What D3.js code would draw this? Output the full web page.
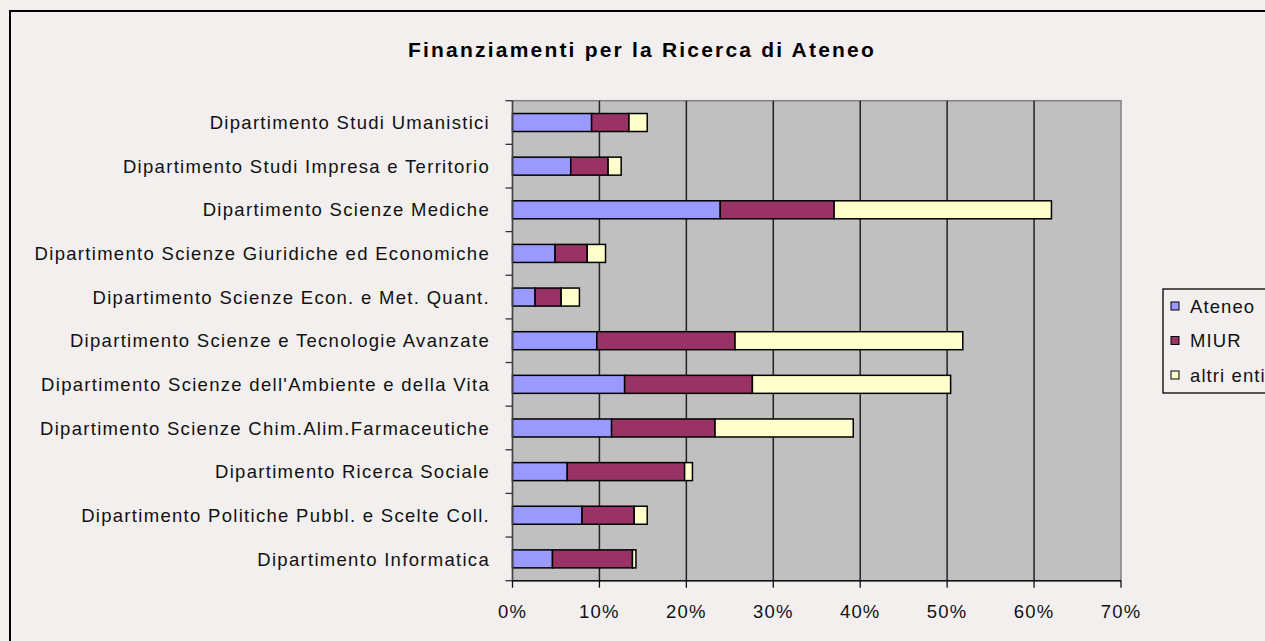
<!DOCTYPE html>
<html>
<head>
<meta charset="utf-8">
<script src="https://cdn.jsdelivr.net/npm/d3@7"></script>
<style>
  html, body { margin: 0; padding: 0; background: #f2efee; }
  svg { display: block; font-family: "Liberation Sans", Arial, sans-serif; }
</style>
</head>
<body>
<svg id="chart" width="1265" height="641"></svg>
<script>
// data (percent)
const departments = [
  "Dipartimento Studi Umanistici",
  "Dipartimento Studi Impresa e Territorio",
  "Dipartimento Scienze Mediche",
  "Dipartimento Scienze Giuridiche ed Economiche",
  "Dipartimento Scienze Econ. e Met. Quant.",
  "Dipartimento Scienze e Tecnologie Avanzate",
  "Dipartimento Scienze dell'Ambiente e della Vita",
  "Dipartimento Scienze Chim.Alim.Farmaceutiche",
  "Dipartimento Ricerca Sociale",
  "Dipartimento Politiche Pubbl. e Scelte Coll.",
  "Dipartimento Informatica"
];
const ateneo = [9.1, 6.7, 23.9, 4.9, 2.6, 9.7, 12.9, 11.4, 6.3, 8.0, 4.6];
const miur   = [4.3, 4.3, 13.1, 3.7, 3.0, 15.9, 14.7, 11.9, 13.5, 6.0, 9.2];
const altri  = [2.1, 1.5, 25.0, 2.1, 2.1, 26.2, 22.8, 15.9, 0.9, 1.5, 0.4];
const seriesNames = ["Ateneo", "MIUR", "altri enti"];
const seriesColors = ["#9999ff", "#993366", "#ffffcc"];
const xTicks = [0, 10, 20, 30, 40, 50, 60, 70];

const svg = d3.select("#chart");

// outer chart border
svg.append("rect")
  .attr("x", 10).attr("y", 11)
  .attr("width", 1300).attr("height", 700)
  .attr("fill", "#f2efee").attr("stroke", "#000").attr("stroke-width", 2);

svg.append("text")
  .attr("x", 642).attr("y", 57)
  .attr("text-anchor", "middle")
  .attr("font-size", 21).attr("font-weight", "bold")
  .attr("letter-spacing", 2.2)
  .text("Finanziamenti per la Ricerca di Ateneo");

const plot = { left: 512.5, right: 1121, top: 100.7, bottom: 580.7 };

const x = d3.scaleLinear().domain([0, 70]).range([plot.left, plot.right]);
const y = d3.scaleBand().domain(departments)
  .range([plot.top, plot.bottom])
  .paddingInner(0.5875).paddingOuter(0.29375);

// plot background
svg.append("rect")
  .attr("x", plot.left).attr("y", plot.top)
  .attr("width", plot.right - plot.left).attr("height", plot.bottom - plot.top)
  .attr("fill", "#c0c0c0").attr("stroke", "#808080").attr("stroke-width", 1.5);

// vertical gridlines
svg.append("g").selectAll("line")
  .data(xTicks.slice(1, -1))
  .enter().append("line")
  .attr("x1", d => x(d)).attr("x2", d => x(d))
  .attr("y1", plot.top).attr("y2", plot.bottom)
  .attr("stroke", "#222").attr("stroke-width", 1.5);

// stacked bars
const rows = departments.map((d, i) => ({ dept: d, Ateneo: ateneo[i], MIUR: miur[i], "altri enti": altri[i] }));
const stack = d3.stack().keys(seriesNames)(rows);

svg.append("g").selectAll("g")
  .data(stack)
  .enter().append("g")
  .attr("fill", (d, i) => seriesColors[i])
  .selectAll("rect")
  .data(d => d)
  .enter().append("rect")
  .attr("x", d => x(d[0]))
  .attr("y", d => y(d.data.dept))
  .attr("width", d => x(d[1]) - x(d[0]))
  .attr("height", y.bandwidth())
  .attr("stroke", "#000").attr("stroke-width", 1.5);

// category axis: ticks at band boundaries
const step = y.step();
const yAxisG = svg.append("g");
yAxisG.append("line")
  .attr("x1", plot.left).attr("x2", plot.left)
  .attr("y1", plot.top).attr("y2", plot.bottom)
  .attr("stroke", "#444").attr("stroke-width", 1.5);
yAxisG.selectAll("line.tk")
  .data(d3.range(departments.length + 1))
  .enter().append("line").attr("class", "tk")
  .attr("x1", plot.left - 7).attr("x2", plot.left)
  .attr("y1", i => plot.top + i * step).attr("y2", i => plot.top + i * step)
  .attr("stroke", "#333").attr("stroke-width", 1.3);
yAxisG.selectAll("text")
  .data(departments)
  .enter().append("text")
  .attr("x", 490)
  .attr("y", d => y(d) + y.bandwidth() / 2)
  .attr("dy", "0.36em")
  .attr("text-anchor", "end")
  .attr("font-size", 18.5)
  .attr("letter-spacing", 1.3)
  .attr("fill", "#111")
  .text(d => d);

// value axis
const xAxisG = svg.append("g");
xAxisG.append("line")
  .attr("x1", plot.left).attr("x2", plot.right)
  .attr("y1", plot.bottom).attr("y2", plot.bottom)
  .attr("stroke", "#111").attr("stroke-width", 1.5);
xAxisG.selectAll("line.tk")
  .data(xTicks)
  .enter().append("line").attr("class", "tk")
  .attr("x1", d => x(d)).attr("x2", d => x(d))
  .attr("y1", plot.bottom).attr("y2", plot.bottom + 7)
  .attr("stroke", "#111").attr("stroke-width", 1.3);
xAxisG.selectAll("text")
  .data(xTicks)
  .enter().append("text")
  .attr("x", d => x(d))
  .attr("y", 618)
  .attr("text-anchor", "middle")
  .attr("font-size", 18.5)
  .attr("letter-spacing", 1.2)
  .attr("fill", "#111")
  .text(d => d + "%");

// legend
const legend = svg.append("g");
legend.append("rect")
  .attr("x", 1163).attr("y", 289)
  .attr("width", 140).attr("height", 104)
  .attr("fill", "#f2efee").attr("stroke", "#000").attr("stroke-width", 1.3);
const li = legend.selectAll("g.item")
  .data(seriesNames)
  .enter().append("g").attr("class", "item")
  .attr("transform", (d, i) => `translate(1171, ${306 + i * 34.5})`);
li.append("rect")
  .attr("x", 0).attr("y", -4).attr("width", 8).attr("height", 8)
  .attr("fill", (d, i) => seriesColors[i])
  .attr("stroke", "#000").attr("stroke-width", 1);
li.append("text")
  .attr("x", 19).attr("y", 0).attr("dy", "0.36em")
  .attr("font-size", 18.5)
  .attr("letter-spacing", 1.1)
  .attr("fill", "#111")
  .text(d => d);
</script>
</body>
</html>
